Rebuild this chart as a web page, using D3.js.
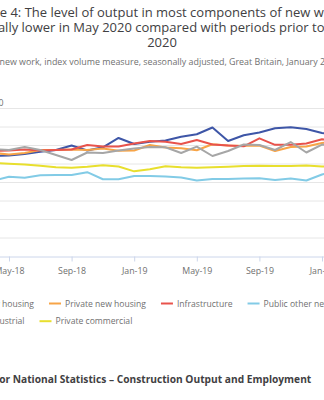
<!DOCTYPE html>
<html>
<head>
<meta charset="utf-8">
<script src="https://cdn.jsdelivr.net/npm/d3@7"></script>
<style>
  body { margin: 0; overflow: hidden; background: #fff; }
  svg { display: block; font-family: "Open Sans", sans-serif; }
</style>
</head>
<body>
<script>
const months = ['Jan-18', 'Feb-18', 'Mar-18', 'Apr-18', 'May-18', 'Jun-18', 'Jul-18', 'Aug-18',
    'Sep-18', 'Oct-18', 'Nov-18', 'Dec-18', 'Jan-19', 'Feb-19', 'Mar-19', 'Apr-19', 'May-19',
    'Jun-19', 'Jul-19', 'Aug-19', 'Sep-19', 'Oct-19', 'Nov-19', 'Dec-19', 'Jan-20', 'Feb-20',
    'Mar-20', 'Apr-20', 'May-20'];

const tickLabels = ['Jan-18', 'May-18', 'Sep-18', 'Jan-19', 'May-19', 'Sep-19', 'Jan-20', 'May-20'];
const yTicks = [0, 20, 40, 60, 80, 100, 120, 140, 160];

const seriesNames = ['Public new housing', 'Private new housing', 'Infrastructure',
    'Public other new work', 'Private industrial', 'Private commercial'];
const seriesColors = ['#3e56a7', '#f7a447', '#e8534c', '#82cbe6', '#a6a6a6', '#e8df2e'];

const publicNewHousing = [105, 107, 106, 108, 108.6, 110.3, 112.8, 114.6, 119.5, 114.1, 117.5,
    127.6, 121.1, 123.6, 124.9, 129, 131.6, 138.9, 124.3, 130.5, 133.5, 138.1, 139.1, 137.3,
    133, 131.4, 118, 62, 78];
const privateNewHousing = [110, 112, 110, 111.4, 109.7, 111.4, 114.6, 114.6, 115.1, 114.6, 116.2,
    113.8, 114.1, 120, 117.3, 116.4, 114.3, 120.8, 119.5, 119.1, 119.5, 113.5, 117.8, 118.4,
    122.2, 123, 102, 20, 45];
const infrastructure = [112, 111, 113, 113.5, 114.1, 115.1, 114.1, 114.6, 115.1, 120, 118.4,
    118.4, 121.6, 124.3, 123.6, 121.1, 125.4, 120.5, 119.5, 118.6, 127.2, 120.2, 120.2, 121.6,
    126.2, 124.3, 111, 73, 88];
const publicOtherNewWork = [84, 83, 82, 81.5, 85.7, 84.6, 87.4, 87.6, 87.6, 90.6, 83, 83, 86.5,
    86.5, 86, 84.9, 81.6, 83.2, 83.2, 83.8, 84, 82.2, 83.8, 81.6, 88.1, 92, 85, 62, 66];
const privateIndustrial = [112, 114, 113, 115.7, 114.6, 117.8, 114.6, 109.2, 103.8, 111.9, 111.4,
    114.1, 116.2, 117.8, 117.5, 111.4, 118.2, 108.1, 113.5, 120.5, 120, 114.6, 123.2, 111.9,
    120.5, 117.8, 100, 58, 70];
const privateCommercial = [102, 101, 100, 100.8, 99.8, 99, 97.5, 96, 95.5, 96.5, 98, 96.7, 91.5,
    93.8, 97, 96, 95.5, 96, 96.5, 97.3, 97.5, 97.3, 97.3, 97.8, 96.8, 96, 85, 52, 60];

const seriesValues = [publicNewHousing, privateNewHousing, infrastructure,
    publicOtherNewWork, privateIndustrial, privateCommercial];

const width = 324,
    height = 400;
const centre = 162;

const svg = d3.select('body').append('svg')
    .attr('width', width)
    .attr('height', height);

// plot area runs off both edges of the window
const x = d3.scalePoint()
    .domain(months)
    .range([-53.6, 384.6]);

const y = d3.scaleLinear()
    .domain([0, 160])
    .range([256, 108]);

// title
const title = svg.append('text')
    .attr('text-anchor', 'middle')
    .attr('font-size', 13)
    .attr('fill', '#414042');
['Figure 4: The level of output in most components of new work was',
    'substantially lower in May 2020 compared with periods prior to February',
    '2020'].forEach(function (t, i) {
    title.append('tspan')
        .attr('x', i === 0 ? centre + 8 : centre)
        .attr('y', 17.3 + i * 14.8)
        .text(t);
});

// subtitle, its opening words sit left of the window
const subPrefix = 'Output in ';
const subtitle = svg.append('text')
    .attr('y', 65)
    .attr('font-size', 8.9)
    .attr('fill', '#707070')
    .text(subPrefix + 'new work, index volume measure, seasonally adjusted, Great Britain, January 2018 to May 2020');
subtitle.attr('x', -subtitle.node().getSubStringLength(0, subPrefix.length) - 0.5);

// gridlines
svg.append('g')
    .selectAll('line')
    .data(yTicks.slice(1))
    .enter().append('line')
    .attr('x1', x.range()[0])
    .attr('x2', x.range()[1])
    .attr('y1', d => y(d) + 0.5)
    .attr('y2', d => y(d) + 0.5)
    .attr('stroke', '#e6e6e6');

svg.append('text')
    .attr('x', 3.6)
    .attr('y', 105.5)
    .attr('text-anchor', 'end')
    .attr('font-size', 8.8)
    .attr('fill', '#707070')
    .text('Index 2016=100');

// x axis
const xAxis = svg.append('g')
    .attr('transform', 'translate(0,' + (y(0) + 0.5) + ')')
    .call(d3.axisBottom(x)
        .tickValues(tickLabels)
        .tickSize(5)
        .tickPadding(6));
xAxis.select('.domain').attr('stroke', '#ccd6eb');
xAxis.selectAll('.tick line').attr('stroke', '#ccd6eb');
xAxis.selectAll('.tick text')
    .attr('font-family', '"Open Sans", sans-serif')
    .attr('font-size', 8.8)
    .attr('fill', '#707070');

// lines
const line = d3.line()
    .x((d, i) => x(months[i]))
    .y(d => y(d));

svg.append('g')
    .selectAll('path')
    .data(seriesValues)
    .enter().append('path')
    .attr('d', line)
    .attr('fill', 'none')
    .attr('stroke', (d, i) => seriesColors[i])
    .attr('stroke-width', 2)
    .attr('stroke-linejoin', 'round');

// legend, two rows, left aligned
const legendRows = [[0, 1, 2, 3], [4, 5]];
const legend = svg.append('g')
    .attr('font-size', 8.6)
    .attr('fill', '#707070');

function itemWidth(name) {
    const t = legend.append('text').text(name);
    const w = t.node().getComputedTextLength();
    t.remove();
    return w;
}

const legendStart = 49 - (12 + 4 + itemWidth(seriesNames[0]) + 15);
legendRows.forEach(function (row, r) {
    let lx = legendStart;
    const ly = 303.5 + r * 17.7;
    row.forEach(function (k) {
        legend.append('line')
            .attr('x1', lx)
            .attr('x2', lx + 12)
            .attr('y1', ly)
            .attr('y2', ly)
            .attr('stroke', seriesColors[k])
            .attr('stroke-width', 2);
        legend.append('text')
            .attr('x', lx + 16)
            .attr('y', ly + 3)
            .text(seriesNames[k]);
        lx += 12 + 4 + itemWidth(seriesNames[k]) + 15;
    });
});

// source line, left part also outside the window
const srcPrefix = 'Source: Office fo';
const source = svg.append('text')
    .attr('y', 383)
    .attr('font-size', 10.2)
    .attr('font-weight', 'bold')
    .attr('fill', '#414042')
    .text(srcPrefix + 'r National Statistics \u2013 Construction Output and Employment');
source.attr('x', 5.5 - source.node().getSubStringLength(0, srcPrefix.length));
</script>
</body>
</html>
